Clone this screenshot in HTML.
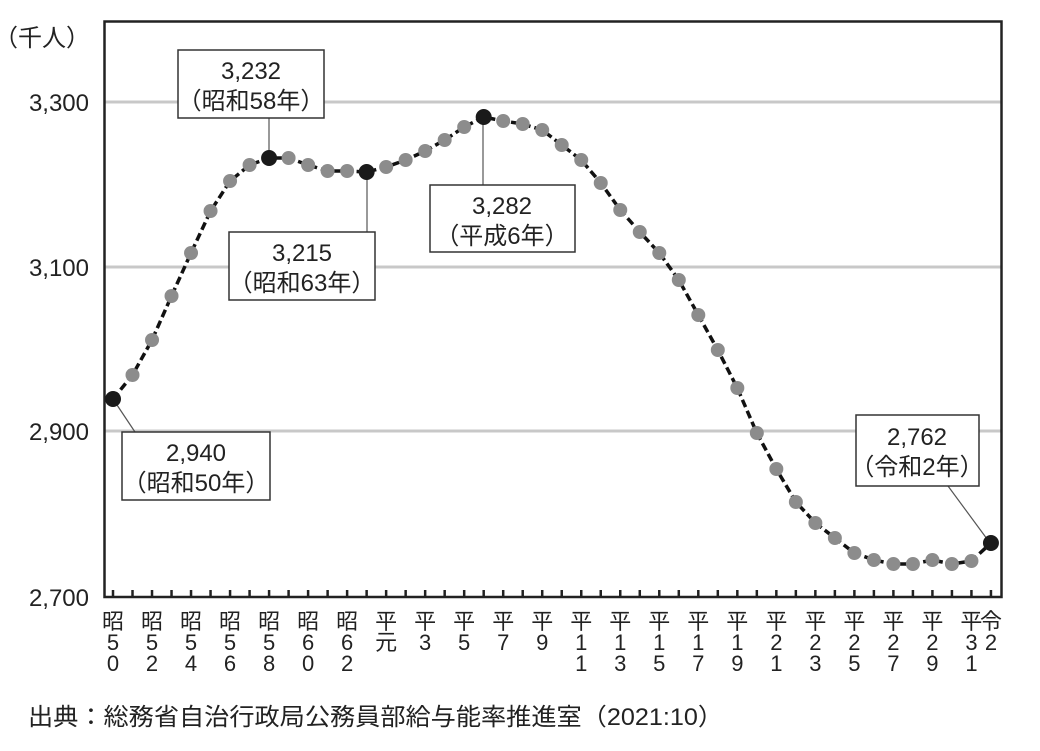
<!DOCTYPE html>
<html><head><meta charset="utf-8"><style>
body{margin:0;background:#fff;}
svg text{font-family:"Liberation Sans","Noto Sans CJK JP",sans-serif;fill:#222;}
</style></head><body>
<svg width="1040" height="746" viewBox="0 0 1040 746" xmlns="http://www.w3.org/2000/svg">
<g stroke="#c8c8c8" stroke-width="3">
<line x1="105" y1="102" x2="1001" y2="102"/>
<line x1="105" y1="267" x2="1001" y2="267"/>
<line x1="105" y1="431" x2="1001" y2="431"/>
</g>
<rect x="104.5" y="21.5" width="897" height="575.5" fill="none" stroke="#222" stroke-width="2.5"/>
<g font-size="24" text-anchor="end">
<text x="90" y="46">（千人）</text>
<text x="89" y="111">3,300</text>
<text x="89" y="276">3,100</text>
<text x="89" y="440">2,900</text>
<text x="89" y="606">2,700</text>
</g>
<g id="ticks" stroke="#222" stroke-width="2.5"></g>
<g stroke="#555" stroke-width="1.2">
<line x1="269" y1="118" x2="269" y2="158"/>
<line x1="367" y1="172" x2="367" y2="232"/>
<line x1="483" y1="117" x2="483" y2="185"/>
<line x1="113" y1="399" x2="135" y2="432"/>
<line x1="948" y1="486" x2="990" y2="543"/>
</g>
<polyline id="line" fill="none" stroke="#111" stroke-width="3.5" stroke-dasharray="8,4"/>
<g id="dots"></g>
<g fill="#fff" stroke="#333" stroke-width="1.5">
<rect x="178" y="50" width="146" height="68"/>
<rect x="229" y="232" width="146" height="68"/>
<rect x="430" y="185" width="145" height="67"/>
<rect x="122" y="432" width="148" height="68"/>
<rect x="856" y="415" width="123" height="71"/>
</g>
<g font-size="24" text-anchor="middle">
<text x="251" y="79">3,232</text><text x="251" y="109">（昭和58年）</text>
<text x="302" y="261">3,215</text><text x="302" y="291">（昭和63年）</text>
<text x="502" y="214">3,282</text><text x="502" y="244">（平成6年）</text>
<text x="196" y="461">2,940</text><text x="196" y="491">（昭和50年）</text>
<text x="917" y="445">2,762</text><text x="917" y="475">（令和2年）</text>
</g>
<g id="xl" font-size="22" text-anchor="middle"></g>
<text x="28" y="725" font-size="24" textLength="695" lengthAdjust="spacingAndGlyphs">出典：総務省自治行政局公務員部給与能率推進室（2021:10）</text>
</svg>
<script>
var ys=[399,375,340,296,253,211,181,165,158,158,165,171,171,172,167,160,151,140,127,117,121,124,130,145,160,183,210,232,253,280,315,350,388,433,469,502,523,538,553,560,564,564,560,564,561,543];
var ns="http://www.w3.org/2000/svg";
function X(i){return 113+19.51*i;}
var pts=ys.map(function(y,i){return X(i).toFixed(1)+","+y;}).join(" ");
document.getElementById("line").setAttribute("points",pts);
var d=document.getElementById("dots"),t=document.getElementById("ticks"),xl=document.getElementById("xl");
var hi={0:1,8:1,13:1,19:1,45:1};
ys.forEach(function(y,i){
 var c=document.createElementNS(ns,"circle");c.setAttribute("cx",X(i));c.setAttribute("cy",y);
 c.setAttribute("r",hi[i]?8:7);c.setAttribute("fill",hi[i]?"#1a1a1a":"#8c8c8c");d.appendChild(c);
 var l=document.createElementNS(ns,"line");l.setAttribute("x1",X(i));l.setAttribute("x2",X(i));l.setAttribute("y1",590);l.setAttribute("y2",597);t.appendChild(l);
});
var labs=[];
for(var i=0;i<=44;i+=2){var yr=1975+i,s;
 if(yr<1989)s=["昭"].concat(String(yr-1925).split(""));
 else if(yr==1989)s=["平","元"];
 else s=["平"].concat(String(yr-1988).split(""));
 labs.push([i,s]);}
labs.push([45,["令","2"]]);
labs.forEach(function(a){a[1].forEach(function(ch,k){
 var tx=document.createElementNS(ns,"text");tx.setAttribute("x",X(a[0]));tx.setAttribute("y",629+k*21);tx.textContent=ch;xl.appendChild(tx);});});
</script>
</body></html>
